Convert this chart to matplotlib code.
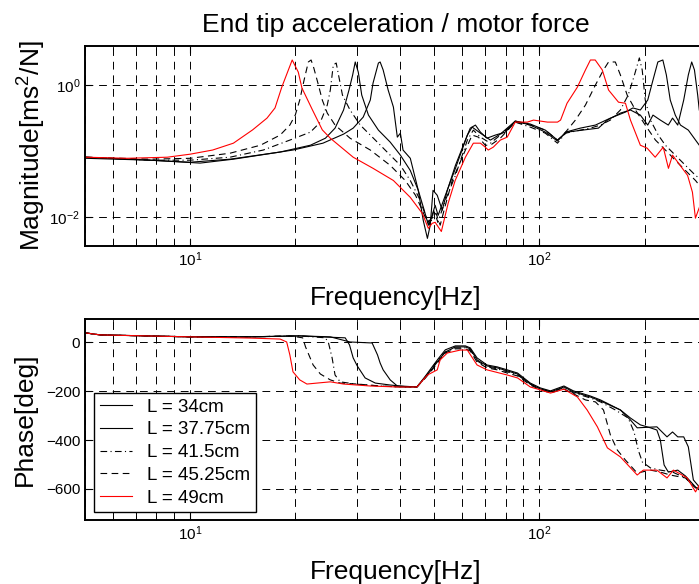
import matplotlib
matplotlib.use("Agg")
import matplotlib.pyplot as plt
from matplotlib.ticker import LogLocator, LogFormatterMathtext, NullFormatter

plt.rcParams['font.family'] = ['Liberation Sans', 'DejaVu Sans']
plt.rcParams['mathtext.default'] = 'regular'

# legend labels and line styles
labels = ["L = 34cm", "L = 37.75cm", "L = 41.5cm", "L = 45.25cm", "L = 49cm"]
styles = ['-', '-', (0, (6, 3, 1, 3)), (0, (6, 4)), '-']
colors = ['black', 'black', 'black', 'black', 'red']

# magnitude (freq [Hz], |a/F|)
mag_34 = [(5.03, 0.081), (7.68, 0.073), (10.68, 0.066), (13.3, 0.0756), (19.7, 0.104),
          (24.0, 0.132), (27.5, 0.181), (29.3, 0.223), (31.3, 0.327), (32.8, 0.593),
          (33.4, 1.07), (34.6, 2.15), (35.0, 2.23), (35.7, 1.69), (36.9, 0.84),
          (38.2, 0.464), (39.2, 0.163), (40.0, 0.187), (40.7, 0.104), (42.7, 0.078),
          (45.0, 0.0256), (46.5, 0.009), (47.8, 0.0048), (48.7, 0.0076), (49.6, 0.0256),
          (51.0, 0.0215), (52.7, 0.0128), (54.5, 0.0256), (57.5, 0.061), (61.4, 0.147),
          (63.4, 0.223), (65.6, 0.248), (67.8, 0.194), (70.8, 0.157), (74.8, 0.175),
          (79.9, 0.194), (85.3, 0.285), (94.2, 0.257), (104, 0.208), (112.7, 0.147),
          (120, 0.194), (132.8, 0.208), (147.6, 0.223), (156.6, 0.295), (170.6, 0.376),
          (182.3, 0.419), (194.6, 0.351), (204.3, 0.248), (211.5, 0.351), (222, 0.295),
          (234, 0.248), (240.6, 0.316), (249, 0.248), (259, 0.593), (267, 1.42),
          (273, 2.23), (278, 1.69), (284, 0.705), (287, 0.419)]

mag_3775 = [(5.03, 0.078), (7.68, 0.073), (10, 0.068), (13.0, 0.0756), (18.1, 0.097),
            (22.1, 0.123), (24.4, 0.157), (26.0, 0.223), (27.5, 0.419), (28.5, 0.84),
            (29.2, 1.42), (29.7, 2.23), (30.3, 1.57), (31.0, 0.705), (32.4, 0.351),
            (34.6, 0.208), (37.4, 0.137), (40.0, 0.087), (42.7, 0.051), (45.0, 0.0256),
            (46.8, 0.0128), (48.1, 0.0076), (49.3, 0.0107), (50.3, 0.0152), (51.3, 0.0107),
            (53.8, 0.0215), (57.5, 0.055), (62.2, 0.175), (64.2, 0.231), (67.8, 0.187),
            (72.4, 0.147), (77.3, 0.181), (85.3, 0.285), (94.2, 0.248), (104, 0.194),
            (112.7, 0.142), (118.8, 0.194), (131, 0.223), (144.7, 0.248), (159.7, 0.316),
            (176.4, 0.39), (185.3, 0.45), (194.6, 0.419), (204.3, 0.593), (211.5, 1.19),
            (218.4, 2.23), (225.7, 2.39), (231, 1.42), (237, 0.593), (245, 0.351),
            (253.5, 0.248), (267, 0.208), (280, 0.147), (287, 0.123)]

mag_415 = [(5.03, 0.081), (7.68, 0.073), (10, 0.073), (13.0, 0.081), (16.2, 0.104),
           (19.3, 0.147), (22.1, 0.194), (23.6, 0.275), (24.7, 0.498), (25.2, 0.84),
           (25.7, 2.01), (26.2, 2.15), (26.6, 1.42), (27.3, 0.705), (28.7, 0.419),
           (30.7, 0.248), (33.9, 0.147), (37.4, 0.087), (40.0, 0.061), (42.7, 0.036),
           (45.6, 0.018), (47.2, 0.0107), (48.7, 0.0076), (49.9, 0.0128), (51.2, 0.0084),
           (53.8, 0.018), (57.5, 0.043), (62.2, 0.147), (64.7, 0.208), (67.8, 0.163),
           (72.4, 0.132), (77.3, 0.175), (85.3, 0.275), (94.2, 0.231), (104, 0.187),
           (112.7, 0.132), (118.8, 0.187), (131, 0.208), (140, 0.223), (149.6, 0.248),
           (159.7, 0.295), (170.6, 0.419), (179.6, 0.705), (187.2, 1.42), (193.3, 2.57),
           (197, 1.69), (201, 0.593), (208, 0.295), (219, 0.175), (229.5, 0.123),
           (245, 0.087), (262, 0.061), (280, 0.043), (287, 0.039)]

mag_4525 = [(5.03, 0.081), (7.68, 0.0756), (10, 0.078), (13.0, 0.093), (15.9, 0.123),
            (18.1, 0.175), (19.3, 0.248), (20.0, 0.351), (20.6, 0.593), (21.2, 1.19),
            (21.8, 2.23), (22.2, 2.39), (22.6, 1.81), (23.3, 1.0), (23.9, 0.593),
            (24.7, 0.376), (26.0, 0.248), (28.7, 0.157), (32.8, 0.104), (37.4, 0.061),
            (41.3, 0.036), (44.2, 0.0215), (46.2, 0.0128), (47.8, 0.0084), (49.3, 0.0097),
            (50.6, 0.0115), (52.0, 0.0076), (53.8, 0.0152), (56.3, 0.036), (61.4, 0.104),
            (64.2, 0.175), (66.9, 0.163), (70.0, 0.123), (72.4, 0.123), (77.3, 0.157),
            (85.3, 0.275), (94.2, 0.248), (104, 0.208), (112.7, 0.147), (117, 0.175),
            (126.8, 0.295), (135.5, 0.498), (144.7, 1.0), (152.6, 1.69), (157.8, 2.23),
            (165, 2.23), (170.6, 1.42), (178.4, 0.705), (188.4, 0.419), (201, 0.248),
            (215, 0.147), (229.5, 0.104), (245, 0.073), (262, 0.051), (280, 0.036),
            (287, 0.0305)]

mag_49 = [(5.03, 0.081), (6.6, 0.078), (8.6, 0.081), (10, 0.090), (11.6, 0.104),
          (13.3, 0.132), (15.1, 0.21), (16.6, 0.316), (17.5, 0.45), (18.3, 0.93),
          (19.6, 2.39), (20.4, 1.57), (20.9, 0.90), (22.4, 0.42), (23.9, 0.21),
          (25.2, 0.157), (29.3, 0.081), (33.4, 0.055), (38.2, 0.036), (42.7, 0.020),
          (46.2, 0.0115), (48.1, 0.0068), (49.3, 0.0081), (50.3, 0.0084), (52.4, 0.0061),
          (54.8, 0.0163), (57.4, 0.036), (61.4, 0.081), (64.7, 0.132), (67.8, 0.132),
          (70, 0.115), (71.4, 0.104), (73.8, 0.115), (77.3, 0.147), (80.9, 0.163),
          (85.3, 0.275), (92.4, 0.275), (96.2, 0.295), (105.5, 0.275), (112.7, 0.275),
          (115, 0.295), (120, 0.53), (128.5, 0.93), (135.5, 1.69), (140, 2.39),
          (144.5, 2.39), (151.4, 1.69), (157.8, 0.84), (168.5, 0.55), (176.4, 0.53),
          (182.3, 0.295), (194.6, 0.123), (203.5, 0.111), (214.6, 0.081), (226.3, 0.115),
          (234.2, 0.055), (240.6, 0.087), (265.7, 0.043), (274.3, 0.024), (279.8, 0.0097),
          (287, 0.014)]

# phase (freq [Hz], deg)
phase_34 = [(5.03, 38), (5.52, 30), (10, 22), (14.9, 22), (20.6, 26), (25.2, 22),
            (28.7, 1), (33.2, -3), (34.4, -52), (35.0, -85), (35.7, -113), (37.4, -154),
            (39.2, -179), (42.7, -183), (44.6, -183), (47.2, -138), (49.3, -101),
            (51.3, -68), (53.8, -31), (57.5, -15), (61.4, -15), (63.4, -23), (66.3, -64),
            (70.8, -93), (75.8, -101), (80.9, -113), (86.6, -126), (94.2, -167),
            (100.7, -187), (107.6, -199), (117.6, -179), (125.2, -199), (140, -220),
            (149.6, -236), (170.6, -277), (182.3, -318), (190.6, -350), (217, -346),
            (232, -387), (240.6, -367), (249, -387), (259, -387), (267, -428),
            (276, -563), (284, -584), (287, -592)]

phase_3775 = [(5.03, 38), (5.52, 30), (10, 22), (14.9, 22), (20.6, 26), (23.6, 22),
              (27.8, 18), (28.6, -11), (29.3, -64), (30.1, -97), (31.7, -146),
              (33.9, -167), (37.4, -175), (40, -179), (44.6, -183), (47.2, -142),
              (49.3, -109), (51.3, -76), (53.8, -40), (57.5, -19), (61.4, -19),
              (63.4, -27), (66.3, -72), (70.8, -97), (75.8, -105), (80.9, -117),
              (86.6, -130), (94.2, -171), (100.7, -191), (107.6, -203), (117.6, -183),
              (125.2, -203), (140, -224), (149.6, -240), (170.6, -277), (182.3, -310),
              (194.6, -338), (208, -350), (217, -359), (222, -400), (227.6, -502),
              (234, -531), (249, -523), (262, -547), (280, -592), (287, -604)]

phase_415 = [(5.03, 38), (5.52, 30), (10, 22), (14.9, 22), (20.6, 26), (24.4, 18),
             (24.9, -3), (25.5, -64), (26.0, -134), (26.9, -162), (29.7, -171),
             (35.0, -179), (40, -183), (44.6, -183), (47.2, -142), (49.3, -105),
             (51.3, -72), (53.8, -40), (57.5, -23), (61.4, -23), (63.4, -31), (66.3, -76),
             (70.8, -101), (75.8, -109), (80.9, -121), (86.6, -134), (94.2, -171),
             (100.7, -191), (107.6, -203), (117.6, -187), (125.2, -207), (140, -228),
             (149.6, -244), (165, -277), (179.6, -310), (186.7, -367), (191.9, -441),
             (197.2, -490), (208, -514), (222, -523), (240.6, -531), (262, -555),
             (280, -596), (287, -596)]

phase_4525 = [(5.03, 38), (5.52, 30), (10, 22), (14.9, 22), (19.3, 26), (21.0, 18),
              (21.4, -19), (22.5, -93), (23.6, -130), (25.2, -154), (26.9, -167),
              (30.1, -171), (35.0, -179), (40, -183), (44.6, -183), (47.2, -146),
              (49.3, -113), (51.3, -81), (53.8, -44), (57.5, -27), (61.4, -27),
              (63.4, -36), (66.3, -81), (70.8, -105), (75.8, -113), (80.9, -126),
              (86.6, -138), (94.2, -175), (100.7, -195), (107.6, -207), (117.6, -191),
              (125.2, -211), (135.5, -236), (144.7, -244), (152.6, -277), (159.7, -379),
              (167.2, -441), (176.4, -482), (190.6, -535), (208, -523), (222, -531),
              (237, -543), (262, -555), (280, -596), (287, -592)]

phase_49 = [(5.03, 38), (5.52, 30), (10, 22), (14.9, 17), (18.1, 13), (18.9, 1),
            (19.3, -52), (19.7, -121), (20.6, -154), (21.6, -171), (23.1, -167),
            (25.2, -162), (27.5, -171), (32.8, -179), (39.2, -183), (44.6, -183),
            (47.8, -134), (51.0, -113), (52, -72), (54.5, -44), (59.4, -32), (62.2, -32),
            (66.3, -93), (70.8, -113), (80.9, -134), (86.6, -146), (94.2, -183),
            (100.7, -195), (107.6, -208), (117.6, -192), (128.5, -224), (137, -277),
            (146.6, -346), (156.6, -432), (170.6, -469), (190.6, -543), (198.5, -523),
            (217, -523), (232, -555), (242, -523), (265, -555), (280, -612), (287, -584)]

mag_data = [mag_34, mag_3775, mag_415, mag_4525, mag_49]
phase_data = [phase_34, phase_3775, phase_415, phase_4525, phase_49]

fig = plt.figure(figsize=(6.99, 5.84), dpi=100)
W, H = 699.0, 584.0
ax1 = fig.add_axes([85 / W, 1 - 246 / H, 621 / W, 200 / H])
ax2 = fig.add_axes([85 / W, 1 - 520 / H, 621 / W, 201 / H])

for d, ls, c, lab in zip(mag_data, styles, colors, labels):
    f, m = zip(*d)
    ax1.plot(f, m, color=c, linestyle=ls, linewidth=0.8, label=lab)

for d, ls, c, lab in zip(phase_data, styles, colors, labels):
    f, p = zip(*d)
    ax2.plot(f, p, color=c, linestyle=ls, linewidth=0.8, label=lab)

ax1.set_yscale('log')
ax1.set_ylim(10 ** -2.434, 10 ** 0.59)
ax1.set_yticks([1e-2, 1e0])
ax1.yaxis.set_major_formatter(LogFormatterMathtext())
ax1.yaxis.set_minor_locator(plt.NullLocator())
ax2.set_ylim(-727, 95)
ax2.set_yticks([-600, -400, -200, 0])

for ax in (ax1, ax2):
    ax.set_xscale('log')
    ax.set_xlim(5, 300)
    ax.xaxis.set_major_locator(LogLocator(base=10, subs=[1.0]))
    ax.xaxis.set_minor_locator(LogLocator(base=10, subs=range(2, 10)))
    ax.xaxis.set_minor_formatter(NullFormatter())
    ax.xaxis.set_major_formatter(LogFormatterMathtext())
    ax.grid(True, which='major', color='black', linestyle=(0, (8, 6)), linewidth=0.7)
    ax.grid(True, which='minor', axis='x', color='black', linestyle=(0, (8, 6)), linewidth=0.7)
    ax.tick_params(which='both', direction='in', top=True, right=True, labelsize=11)
    ax.tick_params(which='major', length=5)
    ax.tick_params(which='minor', length=3)
    for s in ax.spines.values():
        s.set_linewidth(1.4)
    ax.set_xlabel('Frequency[Hz]', fontsize=19, labelpad=12)

ax1.set_title('End tip acceleration / motor force', fontsize=19, pad=10)
ax1.set_ylabel('Magnitude[ms$^2$/N]', fontsize=19)
ax2.set_ylabel('Phase[deg]', fontsize=19)
ax1.yaxis.set_label_coords(-0.059, 0.5)
ax2.yaxis.set_label_coords(-0.077, 0.5)

leg = ax2.legend(loc='upper left', bbox_to_anchor=(0.0145, 0.632), borderaxespad=0,
                 fontsize=13.5, fancybox=False, edgecolor='black', framealpha=1,
                 handlelength=1.75, handletextpad=0.8, labelspacing=0.3,
                 borderpad=0.3)
leg.get_frame().set_linewidth(1.0)

fig.savefig('out.png', dpi=100)
